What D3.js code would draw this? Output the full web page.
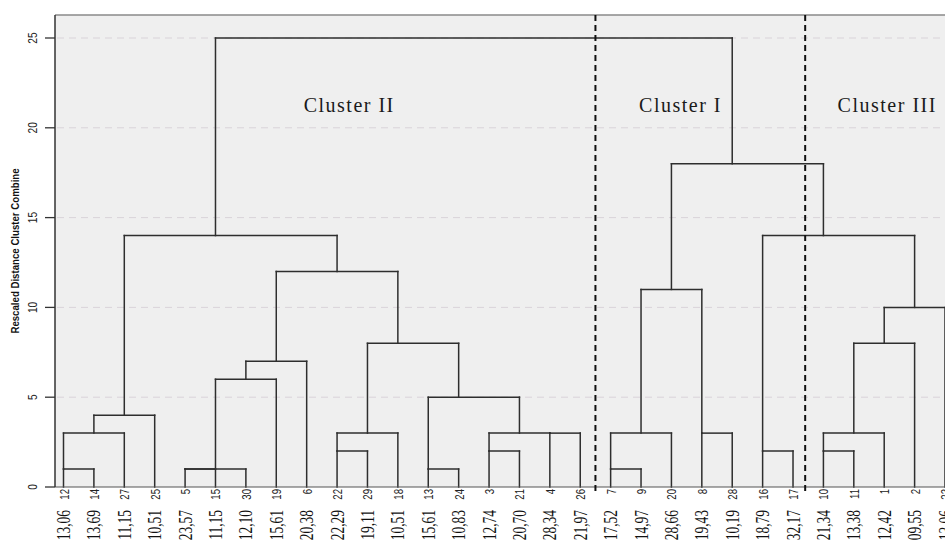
<!DOCTYPE html>
<html>
<head>
<meta charset="utf-8">
<script src="https://cdn.jsdelivr.net/npm/d3@7"></script>
<style>
  body { margin: 0; background: #fff; }
  svg { display: block; }
</style>
</head>
<body>
<div id="chart"></div>
<script>
var width = 945, height = 543;
var margin = {top: 15, left: 55, bottom: 487};

// leaf case numbers, left to right
var leafIds = ["12","14","27","25","5","15","30","19","6","22","29","18","13","24","3","21","4","26",
               "7","9","20","8","28","16","17","10","11","1","2","23"];
// value printed under each leaf
var leafValues = ["13,06","13,69","11,15","10,51","23,57","11,15","12,10","15,61","20,38","22,29",
                  "19,11","10,51","15,61","10,83","12,74","20,70","28,34","21,97","17,52","14,97",
                  "28,66","19,43","10,19","18,79","32,17","21,34","13,38","12,42","09,55","13,06"];
// merges: [node a, node b, rescaled distance]; leaves are 0..29, merge k becomes node 30+k
var merges = [
  [0, 1, 1], [30, 2, 3], [31, 3, 4],
  [4, 5, 1], [33, 6, 1], [34, 7, 6], [35, 8, 7],
  [9, 10, 2], [37, 11, 3],
  [12, 13, 1], [14, 15, 2], [16, 17, 3], [40, 41, 3], [39, 42, 5],
  [38, 43, 8], [36, 44, 12], [32, 45, 14],
  [18, 19, 1], [47, 20, 3], [21, 22, 3], [48, 49, 11],
  [23, 24, 2], [25, 26, 2], [52, 27, 3], [53, 28, 8], [54, 29, 10], [51, 55, 14],
  [50, 56, 18], [46, 57, 25]
];
var yTicks = [0, 5, 10, 15, 20, 25];
// cluster separators (in leaf slots) and labels
var dividers = [17.5, 24.4];
var clusterNames = ["Cluster II", "Cluster I", "Cluster III"];
var clusterCenters = [9.4, 20.3, 27.1];
var clusterLabelLevel = 21;

var x = d3.scaleLinear().domain([0, leafIds.length - 1]).range([63.5, 945]);
var y = d3.scaleLinear().domain([0, 25]).range([margin.bottom, 38]);

var svg = d3.select("#chart").append("svg")
    .attr("width", width)
    .attr("height", height);

// plot background
svg.append("rect")
    .attr("x", margin.left).attr("y", margin.top)
    .attr("width", width - margin.left + 10)
    .attr("height", margin.bottom - margin.top)
    .attr("fill", "#efefef");

// grid
svg.selectAll(".grid").data(yTicks.filter(function(d){ return d > 0; }))
  .enter().append("line")
    .attr("x1", margin.left + 2).attr("x2", width)
    .attr("y1", function(d){ return y(d); })
    .attr("y2", function(d){ return y(d); })
    .attr("stroke", "#d9d3d9")
    .attr("stroke-width", 1)
    .attr("stroke-dasharray", "7,5");

// node positions & heights (SPSS style: floor of average slot)
var pos = leafIds.map(function(d, i){ return i; });
var hgt = leafIds.map(function(){ return 0; });
var segs = [];
merges.forEach(function(m){
  var a = m[0], b = m[1], h = m[2];
  segs.push([pos[a], hgt[a], pos[a], h]);
  segs.push([pos[b], hgt[b], pos[b], h]);
  segs.push([pos[a], h, pos[b], h]);
  pos.push(Math.floor((pos[a] + pos[b]) / 2));
  hgt.push(h);
});

svg.append("g").selectAll("line").data(segs)
  .enter().append("line")
    .attr("x1", function(d){ return x(d[0]); })
    .attr("y1", function(d){ return y(d[1]); })
    .attr("x2", function(d){ return x(d[2]); })
    .attr("y2", function(d){ return y(d[3]); })
    .attr("stroke", "#2e2e2e")
    .attr("stroke-width", 1.5)
    .attr("stroke-linecap", "square");

// frame lines
svg.append("line")
    .attr("x1", margin.left).attr("x2", width)
    .attr("y1", margin.top).attr("y2", margin.top)
    .attr("stroke", "#8a8a8a").attr("stroke-width", 1.5);
svg.append("line")
    .attr("x1", margin.left).attr("x2", width)
    .attr("y1", margin.bottom).attr("y2", margin.bottom)
    .attr("stroke", "#555").attr("stroke-width", 1.2);
svg.append("line")
    .attr("x1", margin.left).attr("x2", margin.left)
    .attr("y1", margin.top).attr("y2", margin.bottom)
    .attr("stroke", "#333").attr("stroke-width", 1.5);

// y ticks
svg.selectAll(".tick").data(yTicks).enter().append("line")
    .attr("x1", 45).attr("x2", margin.left)
    .attr("y1", function(d){ return y(d); })
    .attr("y2", function(d){ return y(d); })
    .attr("stroke", "#333").attr("stroke-width", 1.3);
svg.selectAll(".ytl").data(yTicks).enter().append("text")
    .attr("transform", function(d){ return "translate(37," + y(d) + ") rotate(-90) scale(0.85,1)"; })
    .attr("text-anchor", "middle")
    .style("font-family", "'Liberation Sans', Arial, sans-serif")
    .style("font-size", "12px")
    .attr("fill", "#222")
    .text(function(d){ return d; });

// y axis title
svg.append("text")
    .attr("transform", "translate(19," + ((margin.top + margin.bottom) / 2) + ") rotate(-90) scale(0.84,1)")
    .attr("text-anchor", "middle")
    .style("font-family", "'Liberation Sans', Arial, sans-serif")
    .style("font-size", "11.5px")
    .style("font-weight", "bold")
    .attr("fill", "#111")
    .text("Rescaled Distance Cluster Combine");

// dashed cluster dividers
svg.selectAll(".div").data(dividers).enter().append("line")
    .attr("x1", function(d){ return x(d); })
    .attr("x2", function(d){ return x(d); })
    .attr("y1", margin.top).attr("y2", margin.bottom + 4)
    .attr("stroke", "#111")
    .attr("stroke-width", 2)
    .attr("stroke-dasharray", "6,4");

// cluster labels
svg.selectAll(".cl").data(clusterNames).enter().append("text")
    .attr("x", function(d, i){ return x(clusterCenters[i]); })
    .attr("y", y(clusterLabelLevel) + 2)
    .attr("text-anchor", "middle")
    .style("font-family", "'Liberation Serif', 'Times New Roman', serif")
    .style("font-size", "20px")
    .style("letter-spacing", "1.5px")
    .attr("fill", "#1a1a1a")
    .text(function(d){ return d; });

// leaf ids
svg.selectAll(".leaf").data(leafIds).enter().append("text")
    .attr("transform", function(d, i){ return "translate(" + (x(i) + 5) + ",489) rotate(-90) scale(0.8,1)"; })
    .attr("text-anchor", "end")
    .style("font-family", "'Liberation Sans', Arial, sans-serif")
    .style("font-size", "12px")
    .attr("fill", "#222")
    .text(function(d){ return d; });

// leaf values
svg.selectAll(".val").data(leafValues).enter().append("text")
    .attr("transform", function(d, i){ return "translate(" + (x(i) + 6.5) + ",510) rotate(-90) scale(1,1.45)"; })
    .attr("text-anchor", "end")
    .style("font-family", "'Liberation Serif', 'Times New Roman', serif")
    .style("font-size", "13.5px")
    .attr("fill", "#111")
    .text(function(d){ return d; });
</script>
</body>
</html>
